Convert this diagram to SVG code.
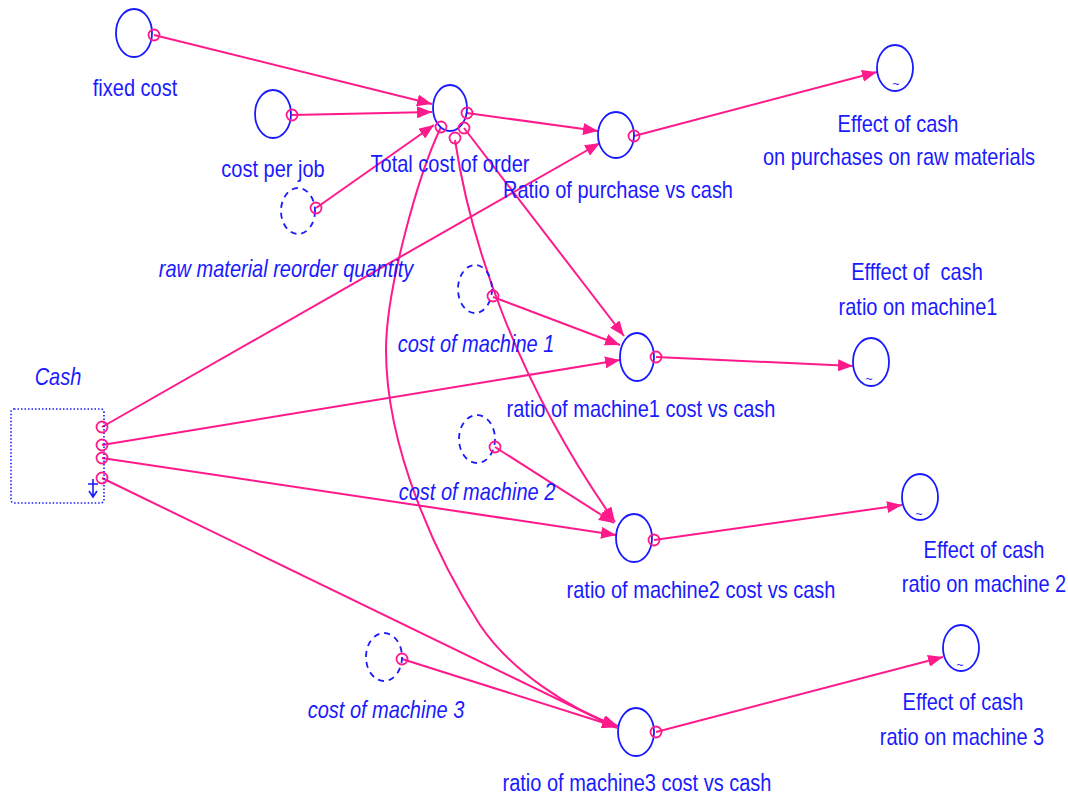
<svg xmlns="http://www.w3.org/2000/svg" width="1068" height="798" viewBox="0 0 1068 798">
<style>
.n{fill:none;stroke:#1a1aff;stroke-width:1.8}
.d{fill:none;stroke:#1a1aff;stroke-width:1.8;stroke-dasharray:6 5}
.t{font-family:"Liberation Sans",Arial,sans-serif;font-size:20px;fill:#1a1aff;text-anchor:middle;white-space:pre}
.i{font-style:italic}
.c{fill:none;stroke:#ff1a8c;stroke-width:2;marker-end:url(#ah)}
.s{fill:none;stroke:#ff1a8c;stroke-width:1.8}
.g{font-family:"Liberation Sans",Arial,sans-serif;font-size:12px;fill:#1a1aff;text-anchor:middle}
</style>
<defs>
<marker id="ah" markerUnits="userSpaceOnUse" markerWidth="16" markerHeight="12" refX="15" refY="6" orient="auto">
<path d="M0,0 L15,6 L0,12 z" fill="#ff1a8c"/>
</marker>
</defs>
<rect width="1068" height="798" fill="#fff"/>
<g id="connectors">
<path class="c" d="M154,35 L432,104"/>
<path class="c" d="M292,115 L432,112"/>
<path class="c" d="M316,208 L434,125"/>
<path class="c" d="M467,113 L598,131"/>
<path class="c" d="M102,427 L600,143"/>
<path class="c" d="M634,136 L877,72"/>
<path class="c" d="M464,128 L624,336"/>
<path class="c" d="M493,297 L620,345"/>
<path class="c" d="M102,445 L620,360"/>
<path class="c" d="M656,357 L853,366"/>
<path class="c" d="M455,140 C470,240 515,380 615,522"/>
<path class="c" d="M495,447 L614,523"/>
<path class="c" d="M102,458 L616,535"/>
<path class="c" d="M654,540 L902,505"/>
<path class="c" d="M441,127 C418,175 386,290 386,350 C386,450 438,560 480,625 C510,670 570,710 618,726"/>
<path class="c" d="M402,659 L617,727"/>
<path class="c" d="M102,478 L617,728"/>
<path class="c" d="M656,732 L943,657"/>
</g>
<g id="fixed-cost">
<ellipse class="n" cx="134" cy="33" rx="18" ry="24"/>
<circle class="s" cx="154" cy="35" r="5.5"/>
<text class="t" transform="matrix(1 0 0 1.2 135 96)">fixed cost</text>
</g>
<g id="cost-per-job">
<ellipse class="n" cx="273" cy="114" rx="18" ry="24"/>
<circle class="s" cx="292" cy="115" r="5.5"/>
<text class="t" transform="matrix(1 0 0 1.2 273 177)">cost per job</text>
</g>
<g id="total-cost-of-order">
<ellipse class="n" cx="450" cy="108" rx="17" ry="23"/>
<circle class="s" cx="467" cy="113" r="5.5"/>
<circle class="s" cx="441" cy="127" r="5.5"/>
<circle class="s" cx="455" cy="138" r="5.5"/>
<circle class="s" cx="464" cy="128" r="5.5"/>
<text class="t" transform="matrix(1 0 0 1.2 450 172)">Total cost of order</text>
</g>
<g id="raw-material-reorder-quantity">
<ellipse class="d" cx="298" cy="211" rx="17" ry="23"/>
<circle class="s" cx="316" cy="208" r="5.5"/>
<text class="t i" transform="matrix(1 0 0 1.2 286 277)">raw material reorder quantity</text>
</g>
<g id="ratio-of-purchase-vs-cash">
<ellipse class="n" cx="616" cy="135" rx="18" ry="23"/>
<circle class="s" cx="634" cy="136" r="5.5"/>
<text class="t" transform="matrix(1 0 0 1.2 618 198)">Ratio of purchase vs cash</text>
</g>
<g id="effect-of-cash-purchases">
<ellipse class="n" cx="895" cy="68" rx="18" ry="23"/>
<text class="g" x="896" y="88">~</text>
<text class="t" transform="matrix(1 0 0 1.2 898 132)">Effect of cash</text>
<text class="t" transform="matrix(1 0 0 1.2 899 165)">on purchases on raw materials</text>
</g>
<g id="cost-of-machine-1">
<ellipse class="d" cx="475" cy="289" rx="17" ry="24"/>
<circle class="s" cx="493" cy="296" r="5.5"/>
<text class="t i" transform="matrix(1 0 0 1.2 476 352)">cost of machine 1</text>
</g>
<g id="ratio-of-machine1-cost-vs-cash">
<ellipse class="n" cx="637" cy="357" rx="17" ry="24"/>
<circle class="s" cx="656" cy="357" r="5.5"/>
<text class="t" transform="matrix(1 0 0 1.2 641 417)">ratio of machine1 cost vs cash</text>
</g>
<g id="effect-of-cash-machine1">
<ellipse class="n" cx="871" cy="362" rx="18" ry="24"/>
<text class="g" x="869" y="383">~</text>
<text class="t" transform="matrix(1 0 0 1.2 917 280)">Efffect of  cash</text>
<text class="t" transform="matrix(1 0 0 1.2 918 315)">ratio on machine1</text>
</g>
<g id="cost-of-machine-2">
<ellipse class="d" cx="477" cy="439" rx="18" ry="24"/>
<circle class="s" cx="495" cy="447" r="5.5"/>
<text class="t i" transform="matrix(1 0 0 1.2 477 500)">cost of machine 2</text>
</g>
<g id="ratio-of-machine2-cost-vs-cash">
<ellipse class="n" cx="634" cy="538" rx="18" ry="24"/>
<circle class="s" cx="654" cy="540" r="5.5"/>
<text class="t" transform="matrix(1 0 0 1.2 701 598)">ratio of machine2 cost vs cash</text>
</g>
<g id="effect-of-cash-machine2">
<ellipse class="n" cx="920" cy="497" rx="18" ry="23"/>
<text class="g" x="919" y="518">~</text>
<text class="t" transform="matrix(1 0 0 1.2 984 558)">Effect of cash</text>
<text class="t" transform="matrix(1 0 0 1.2 984 592)">ratio on machine 2</text>
</g>
<g id="cost-of-machine-3">
<ellipse class="d" cx="384" cy="657" rx="18" ry="24"/>
<circle class="s" cx="402" cy="659" r="5.5"/>
<text class="t i" transform="matrix(1 0 0 1.2 386 718)">cost of machine 3</text>
</g>
<g id="ratio-of-machine3-cost-vs-cash">
<ellipse class="n" cx="636" cy="732" rx="18" ry="24"/>
<circle class="s" cx="656" cy="732" r="5.5"/>
<text class="t" transform="matrix(1 0 0 1.15 637 791)">ratio of machine3 cost vs cash</text>
</g>
<g id="effect-of-cash-machine3">
<ellipse class="n" cx="961" cy="648" rx="18" ry="23"/>
<text class="g" x="960" y="669">~</text>
<text class="t" transform="matrix(1 0 0 1.2 963 710)">Effect of cash</text>
<text class="t" transform="matrix(1 0 0 1.2 962 745)">ratio on machine 3</text>
</g>
<g id="cash">
<rect x="11" y="409" width="93" height="94" rx="3" fill="none" stroke="#1a1aff" stroke-width="1.6" stroke-dasharray="1.5 2"/>
<circle class="s" cx="102" cy="427" r="5.5"/>
<circle class="s" cx="102" cy="445" r="5.5"/>
<circle class="s" cx="102" cy="458" r="5.5"/>
<circle class="s" cx="102" cy="478" r="5.5"/>
<path d="M88,484 L98,484 M93,479 L93,496 M89,491 L93,497 L97,491" fill="none" stroke="#1a1aff" stroke-width="1.6"/>
<text class="t i" transform="matrix(1 0 0 1.2 58 385)">Cash</text>
</g>
</svg>
